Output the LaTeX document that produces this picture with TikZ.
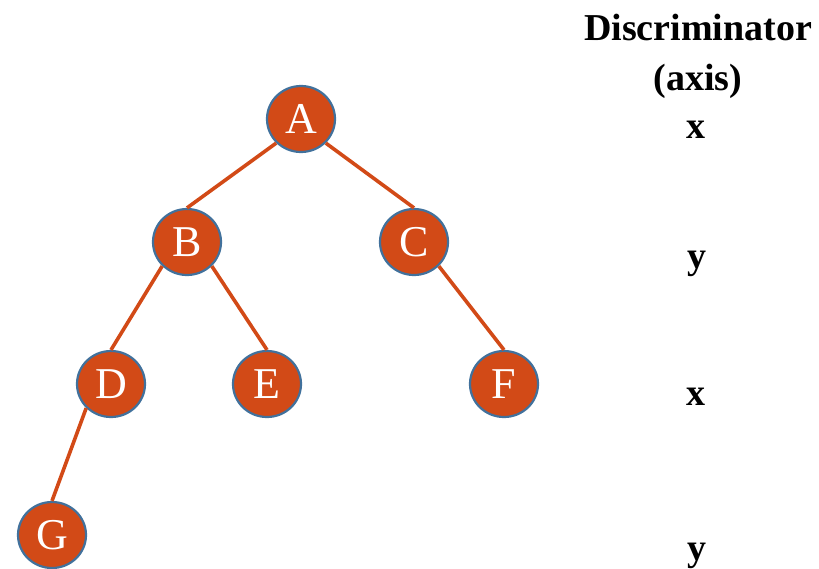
\documentclass[tikz,border=0pt]{standalone}
\usepackage{fontspec}
\usetikzlibrary{shapes.geometric}
\setmainfont{Liberation Serif}
\definecolor{nodefill}{HTML}{D24A17}
\definecolor{nodeline}{HTML}{41719C}
\definecolor{edgecol}{HTML}{D24A17}
\begin{document}
\begin{tikzpicture}[x=1pt,y=-1pt,
  treenode/.style={ellipse,fill=nodefill,draw=nodeline,line width=2.2pt,
    minimum width=68pt,minimum height=66pt,inner sep=0pt,text=white,
    font=\fontsize{44}{44}\selectfont},
  edge/.style={draw=edgecol,line width=3.6pt},
  axislabel/.style={font=\bfseries\fontsize{38}{40}\selectfont,anchor=base}]
\useasboundingbox (0,0) rectangle (819,568);
% tree nodes
\node[treenode] (A) at (301,119) {A};
\node[treenode] (B) at (187,242) {B};
\node[treenode] (C) at (414,242) {C};
\node[treenode] (D) at (111,384) {D};
\node[treenode] (E) at (267,384) {E};
\node[treenode] (F) at (504,384) {F};
\node[treenode] (G) at (52,535) {G};
% edges join a parent's lower side to the child's top
\path[edge] (A.south west) -- (B.north);
\path[edge] (A.south east) -- (C.north);
\path[edge] (B.south west) -- (D.north);
\path[edge] (B.south east) -- (E.north);
\path[edge] (C.south east) -- (F.north);
\path[edge] (D.south west) -- (G.north);
% discriminator column
\node[axislabel] (title1) at (698,40) {Discriminator};
\node[axislabel] (title2) at (698,90) {(axis)};
\node[axislabel] (l0) at (696,138) {x};
\node[axislabel] (l1) at (697,268) {y};
\node[axislabel] (l2) at (696,405) {x};
\node[axislabel] (l3) at (697,560) {y};
\end{tikzpicture}
\end{document}
